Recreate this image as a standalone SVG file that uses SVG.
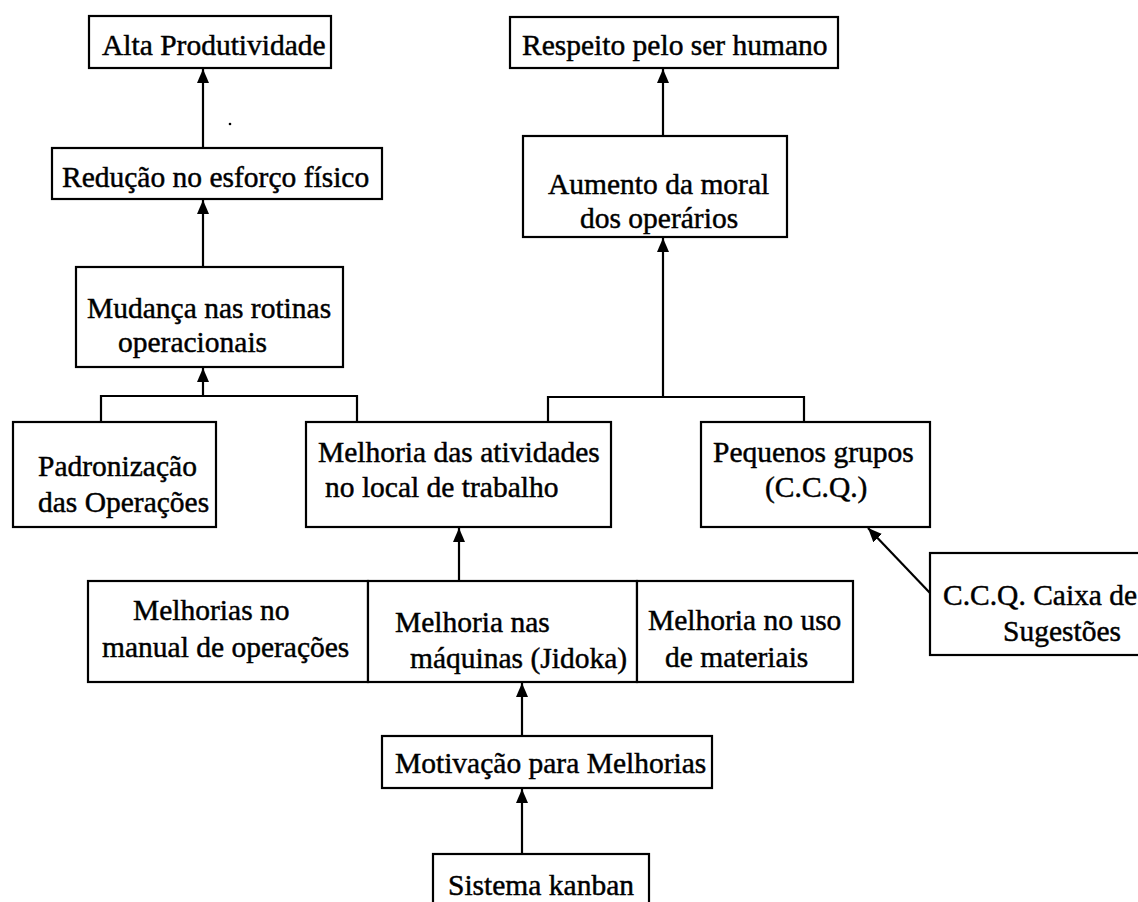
<svg xmlns="http://www.w3.org/2000/svg" width="1138" height="902" viewBox="0 0 1138 902">
<style>
.box{fill:#fff;stroke:#000;stroke-width:2.2}
.t{font-family:"Liberation Serif","Times New Roman",serif;font-size:29.5px;fill:#000;stroke:#000;stroke-width:0.45}
.c{fill:none;stroke:#000;stroke-width:2.2}
</style>
<defs>
<marker id="ah" markerUnits="userSpaceOnUse" viewBox="0 0 14 12" refX="14" refY="6" markerWidth="14" markerHeight="12" orient="auto">
<path d="M0,0 L14,6 L0,12 z" fill="#000"/>
</marker>
</defs>
<rect width="1138" height="902" fill="#fff"/>
<g id="connectors">
<line class="c" x1="203" y1="148" x2="203" y2="69" marker-end="url(#ah)"/>
<line class="c" x1="203" y1="267" x2="203" y2="200" marker-end="url(#ah)"/>
<polyline class="c" points="101,422 101,396 357,396 357,422"/>
<line class="c" x1="203" y1="396" x2="203" y2="368" marker-end="url(#ah)"/>
<polyline class="c" points="548,422 548,397 804,397 804,422"/>
<line class="c" x1="663" y1="397" x2="663" y2="238" marker-end="url(#ah)"/>
<line class="c" x1="663" y1="136" x2="663" y2="69" marker-end="url(#ah)"/>
<line class="c" x1="459" y1="581" x2="459" y2="528" marker-end="url(#ah)"/>
<line class="c" x1="522" y1="736" x2="522" y2="683" marker-end="url(#ah)"/>
<line class="c" x1="522" y1="854" x2="522" y2="789" marker-end="url(#ah)"/>
<line class="c" x1="930" y1="593" x2="868" y2="528" marker-end="url(#ah)"/>
</g>
<circle cx="230" cy="124" r="1.3" fill="#000"/>
<g id="alta">
<rect class="box" x="89" y="16" width="242" height="52"/>
<text class="t" x="102" y="55">Alta Produtividade</text>
</g>
<g id="reducao">
<rect class="box" x="52" y="148" width="330" height="51"/>
<text class="t" x="62" y="187">Redução no esforço físico</text>
</g>
<g id="mudanca">
<rect class="box" x="76" y="267" width="267" height="100"/>
<text class="t" x="87" y="318">Mudança nas rotinas</text>
<text class="t" x="118" y="352">operacionais</text>
</g>
<g id="padronizacao">
<rect class="box" x="13" y="422" width="203" height="105"/>
<text class="t" x="38" y="476">Padronização</text>
<text class="t" x="38" y="512">das Operações</text>
</g>
<g id="melhoria-atividades">
<rect class="box" x="306" y="422" width="305" height="105"/>
<text class="t" x="318" y="462">Melhoria das atividades</text>
<text class="t" x="325" y="497">no local de trabalho</text>
</g>
<g id="pequenos-grupos">
<rect class="box" x="701" y="422" width="229" height="105"/>
<text class="t" x="713" y="462">Pequenos grupos</text>
<text class="t" x="765" y="497">(C.C.Q.)</text>
</g>
<g id="ccq-caixa">
<rect class="box" x="930" y="553" width="220" height="102"/>
<text class="t" x="943" y="605">C.C.Q. Caixa de</text>
<text class="t" x="1003" y="641">Sugestões</text>
</g>
<g id="melhorias-manual">
<rect class="box" x="88" y="581" width="280" height="101"/>
<text class="t" x="133" y="620">Melhorias no</text>
<text class="t" x="102" y="657">manual de operações</text>
</g>
<g id="melhoria-maquinas">
<rect class="box" x="368" y="581" width="269" height="101"/>
<text class="t" x="395" y="632">Melhoria nas</text>
<text class="t" x="410" y="668">máquinas (Jidoka)</text>
</g>
<g id="melhoria-materiais">
<rect class="box" x="637" y="581" width="216" height="101"/>
<text class="t" x="648" y="630">Melhoria no uso</text>
<text class="t" x="665" y="667">de materiais</text>
</g>
<g id="motivacao">
<rect class="box" x="382" y="736" width="330" height="52"/>
<text class="t" x="395" y="773">Motivação para Melhorias</text>
</g>
<g id="kanban">
<rect class="box" x="433" y="854" width="216" height="60"/>
<text class="t" x="448" y="895">Sistema kanban</text>
</g>
<g id="respeito">
<rect class="box" x="510" y="17" width="328" height="51"/>
<text class="t" x="522" y="55">Respeito pelo ser humano</text>
</g>
<g id="aumento">
<rect class="box" x="523" y="136" width="264" height="101"/>
<text class="t" x="548" y="194">Aumento da moral</text>
<text class="t" x="580" y="228">dos operários</text>
</g>
</svg>
